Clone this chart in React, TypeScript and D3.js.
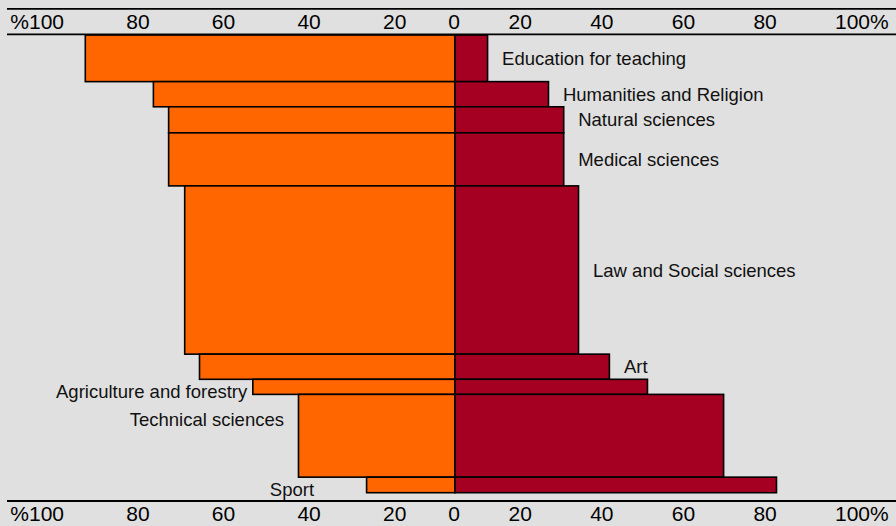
import React from "react";
import * as d3 from "d3";

// ---- Data ----
const categories = [
  "Education for teaching",
  "Humanities and Religion",
  "Natural sciences",
  "Medical sciences",
  "Law and Social sciences",
  "Art",
  "Agriculture and forestry",
  "Technical sciences",
  "Sport",
];
// share of all graduates (%), drives bar thickness
const share = [10.2, 5.5, 5.7, 11.6, 36.8, 5.5, 3.3, 18.1, 3.4];
// left (orange) series, %
const women = [87.4, 71.3, 67.7, 67.7, 63.9, 60.4, 47.8, 37.0, 20.9];
// right (dark red) series, %
const men = [7.7, 22.1, 25.7, 25.7, 29.2, 36.5, 45.5, 63.5, 76.0];
const labelSide = ["right", "right", "right", "right", "right", "right", "left", "left", "left"];
const tickValues = [20, 40, 60, 80, 100];
const leftTickLabels = ["20", "40", "60", "80", "%100"];
const rightTickLabels = ["20", "40", "60", "80", "100%"];

// ---- Layout / style ----
const W = 896;
const H = 526;
const CX = 455;
const PX_PER_UNIT = 4.23;
const BAR_TOP = 35;
const BAR_BOTTOM = 492.7;
const AXIS_X0 = 7;
const TOP_LINE1 = 8.8;
const TOP_LINE2 = 34.3;
const BOTTOM_LINE = 501;
const ORANGE = "#FF6600";
const RED = "#A50021";
const BG = "#E0E0E0";
const FONT = "'Liberation Sans', Arial, sans-serif";
const LABEL_GAP = 14.5;
const LABEL_NUDGE: Record<string, [number, number]> = {
  "Agriculture and forestry": [9, 4],
  "Technical sciences": [0, -16],
  Sport: [-38, 4],
};

export default function App() {
  const xLeft = d3.scaleLinear().domain([0, 100]).range([CX, CX - 100 * PX_PER_UNIT]);
  const xRight = d3.scaleLinear().domain([0, 100]).range([CX, CX + 100 * PX_PER_UNIT]);
  // tick label scales (labels sit in header cells)
  const tickLeft = d3.scaleLinear().domain([0, 100]).range([492, 64]);
  const tickRight = d3.scaleLinear().domain([0, 100]).range([427, 835]);

  const total = d3.sum(share);
  const y = d3.scaleLinear().domain([0, total]).range([BAR_TOP, BAR_BOTTOM]);
  const cum: number[] = [];
  share.reduce((acc, v) => {
    cum.push(acc);
    return acc + v;
  }, 0);

  const rows = categories.map((c, i) => ({
    name: c,
    y0: y(cum[i]),
    y1: y(cum[i] + share[i]),
    w: women[i],
    m: men[i],
    side: labelSide[i],
  }));

  const tickRow = (baseline: number) => (
    <g fontFamily={FONT} fontSize={21} fill="#000">
      {tickValues.map((v, i) => (
        <text key={"l" + v} x={tickLeft(v)} y={baseline} textAnchor="end">
          {leftTickLabels[i]}
        </text>
      ))}
      <text x={CX - 1} y={baseline} textAnchor="middle">0</text>
      {tickValues.map((v, i) => (
        <text key={"r" + v} x={tickRight(v)} y={baseline} textAnchor="start">
          {rightTickLabels[i]}
        </text>
      ))}
    </g>
  );

  return (
    <div style={{ position: "fixed", left: 0, top: 0, width: W, height: H }}>
      <svg width={W} height={H} style={{ display: "block" }}>
        <rect x={0} y={0} width={W} height={H} fill={BG} />
        {rows.map((r) => (
          <g key={r.name}>
            <rect
              x={xLeft(r.w)}
              y={r.y0}
              width={xLeft(0) - xLeft(r.w)}
              height={r.y1 - r.y0}
              fill={ORANGE}
              stroke="#000"
              strokeWidth={1.6}
            />
            <rect
              x={xRight(0)}
              y={r.y0}
              width={xRight(r.m) - xRight(0)}
              height={r.y1 - r.y0}
              fill={RED}
              stroke="#000"
              strokeWidth={1.6}
            />
          </g>
        ))}
        <g fontFamily={FONT} fontSize={18.5} fill="#111">
          {rows.map((r) => {
            const nudge = LABEL_NUDGE[r.name] || [0, 0];
            const cy = (r.y0 + r.y1) / 2 + nudge[1];
            if (r.side === "right") {
              return (
                <text key={r.name} x={xRight(r.m) + LABEL_GAP + nudge[0]} y={cy} dy="0.36em" textAnchor="start">
                  {r.name}
                </text>
              );
            }
            return (
              <text key={r.name} x={xLeft(r.w) - LABEL_GAP + nudge[0]} y={cy} dy="0.36em" textAnchor="end">
                {r.name}
              </text>
            );
          })}
        </g>
        <line x1={AXIS_X0} x2={W} y1={TOP_LINE1} y2={TOP_LINE1} stroke="#000" strokeWidth={1.8} />
        <line x1={AXIS_X0} x2={W} y1={TOP_LINE2} y2={TOP_LINE2} stroke="#000" strokeWidth={1.8} />
        <line x1={AXIS_X0} x2={W} y1={BOTTOM_LINE} y2={BOTTOM_LINE} stroke="#000" strokeWidth={1.8} />
        {tickRow(29.3)}
        {tickRow(521)}
      </svg>
    </div>
  );
}
